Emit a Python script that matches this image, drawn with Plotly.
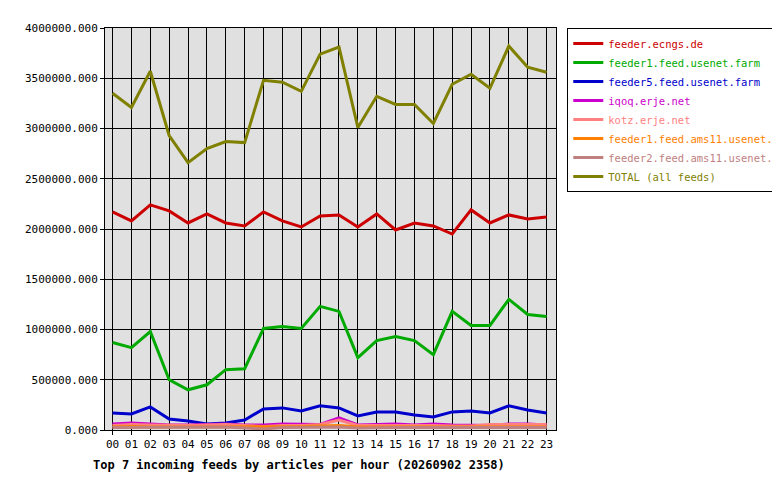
import plotly.graph_objects as go

hours = [f"{h:02d}" for h in range(24)]
names = ["feeder.ecngs.de", "feeder1.feed.usenet.farm", "feeder5.feed.usenet.farm",
         "iqoq.erje.net", "kotz.erje.net", "feeder1.feed.ams11.usenet.farm",
         "feeder2.feed.ams11.usenet.farm", "TOTAL (all feeds)"]
colors = ["#cc0000", "#00aa00", "#0000cc", "#cc00cc", "#ff8080", "#ff8000", "#c08080", "#808000"]

ecngs = [2170000, 2080000, 2240000, 2180000, 2060000, 2150000, 2060000, 2030000, 2170000, 2080000, 2020000, 2130000,
         2140000, 2020000, 2150000, 1990000, 2060000, 2030000, 1950000, 2190000, 2060000, 2140000, 2100000, 2120000]
feeder1 = [870000, 820000, 980000, 500000, 400000, 450000, 600000, 610000, 1010000, 1030000, 1010000, 1230000,
           1180000, 720000, 890000, 930000, 890000, 750000, 1180000, 1040000, 1040000, 1300000, 1150000, 1130000]
feeder5 = [170000, 160000, 230000, 110000, 90000, 60000, 70000, 100000, 210000, 220000, 190000, 240000,
           220000, 140000, 180000, 180000, 150000, 130000, 180000, 190000, 170000, 240000, 200000, 170000]
iqoq = [60000, 70000, 60000, 50000, 50000, 55000, 60000, 50000, 50000, 60000, 55000, 55000,
        120000, 50000, 55000, 60000, 50000, 60000, 50000, 45000, 45000, 60000, 60000, 50000]
kotz = [45000, 55000, 50000, 45000, 45000, 50000, 55000, 45000, 35000, 45000, 45000, 55000,
        100000, 45000, 45000, 50000, 45000, 45000, 40000, 40000, 55000, 55000, 60000, 55000]
ams1 = [30000, 35000, 30000, 30000, 35000, 35000, 30000, 30000, 30000, 35000, 35000, 40000,
        45000, 30000, 30000, 35000, 30000, 30000, 30000, 30000, 35000, 35000, 35000, 30000]
ams2 = [25000, 25000, 25000, 25000, 25000, 25000, 30000, 20000, 10000, 25000, 25000, 25000,
        30000, 20000, 25000, 25000, 25000, 25000, 25000, 25000, 25000, 25000, 25000, 25000]
total = [3350000, 3210000, 3570000, 2930000, 2660000, 2800000, 2870000, 2860000, 3480000, 3460000, 3370000, 3740000,
         3810000, 3010000, 3320000, 3240000, 3240000, 3050000, 3440000, 3540000, 3400000, 3820000, 3610000, 3560000]
series = [ecngs, feeder1, feeder5, iqoq, kotz, ams1, ams2, total]

fig = go.Figure()
for n, c, s in zip(names, colors, series):
    fig.add_trace(go.Scatter(x=hours, y=s, name=f"<span style='color:{c}'>{n}</span>", mode="lines",
                             line=dict(color=c, width=3)))

font = "DejaVu Sans Mono"
fig.update_layout(
    width=780, height=480, paper_bgcolor="white", plot_bgcolor="#e0e0e0",
    margin=dict(l=97, r=232, t=20, b=58, autoexpand=False),
    font=dict(family=font, size=11, color="black"),
    showlegend=True,
    legend=dict(x=1.025, y=1.0, xanchor="left", yanchor="top", bordercolor="black", borderwidth=1,
                bgcolor="white", font=dict(family=font, size=10.5), tracegroupgap=0, itemwidth=30,
                entrywidth=0),
    xaxis=dict(type="category", range=[-0.4, 23.5], showgrid=True, gridcolor="black", gridwidth=1,
               showline=True, linecolor="black", ticks="outside", ticklen=4, tickcolor="black", mirror=True),
    yaxis=dict(range=[0, 4000000], dtick=500000, tickformat=".3f", showgrid=True, gridcolor="black", gridwidth=1,
               showline=True, linecolor="black", ticks="outside", ticklen=4, tickcolor="black", mirror=True,
               zeroline=False),
    annotations=[dict(text="<b>Top 7 incoming feeds by articles per hour (20260902 2358)</b>",
                      xref="paper", yref="paper", x=-0.03, y=-0.065, xanchor="left", yanchor="top",
                      showarrow=False, font=dict(family=font, size=12))],
)
fig.write_html("out.html")
